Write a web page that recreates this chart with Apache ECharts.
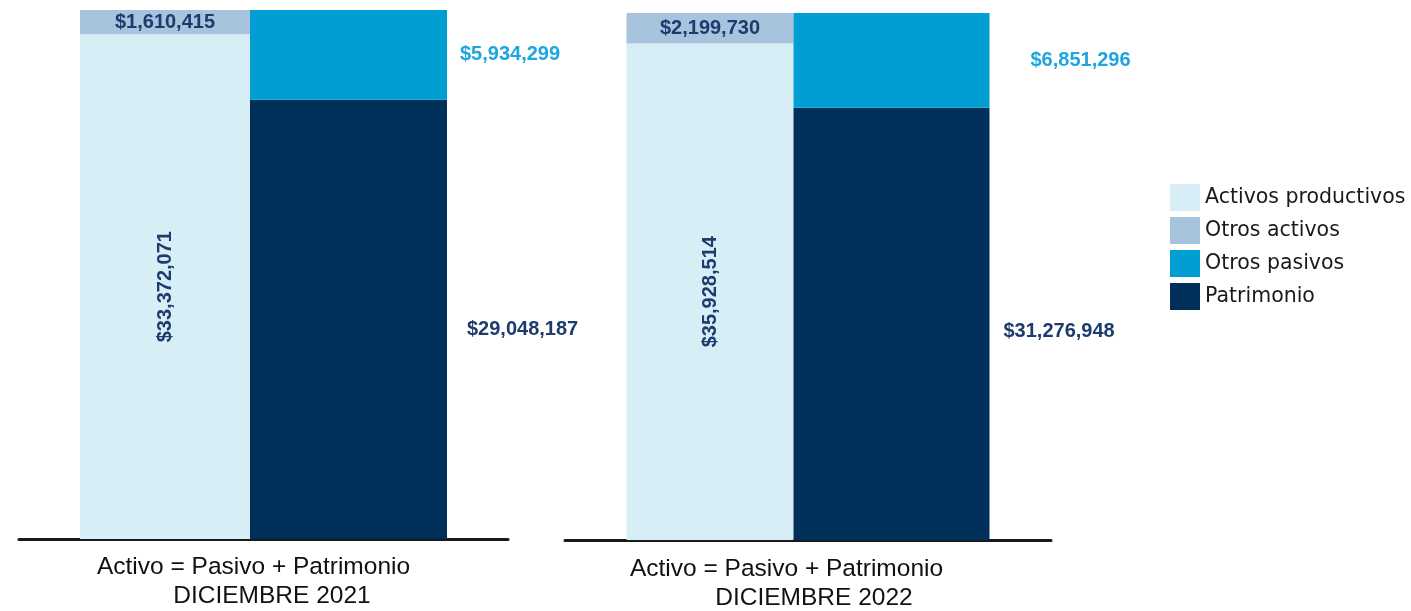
<!DOCTYPE html>
<html>
<head>
<meta charset="utf-8">
<script src="https://cdn.jsdelivr.net/npm/echarts@6/dist/echarts.min.js"></script>
<style>
html,body{margin:0;padding:0;background:#fff;}
#chart{width:1411px;height:611px;}
</style>
</head>
<body>
<div id="chart"></div>
<script>
const categories = ['Activo = Pasivo + Patrimonio'];
const periods = ['DICIEMBRE 2021', 'DICIEMBRE 2022'];
const seriesNames = ['Activos productivos', 'Otros activos', 'Otros pasivos', 'Patrimonio'];
const activosProductivos = [33372071, 35928514];
const otrosActivos = [1610415, 2199730];
const otrosPasivos = [5934299, 6851296];
const patrimonio = [29048187, 31276948];

const colors = {
  'Activos productivos': '#D7EEF6',
  'Otros activos': '#A8C3DD',
  'Otros pasivos': '#009ED3',
  'Patrimonio': '#00305A'
};
const darkLabel = '#1E3B6D';
const cyanLabel = '#1EA5DE';
const sans = '"Liberation Sans", Arial, sans-serif';
const fmt = v => '$' + Number(v).toLocaleString('en-US');

const panels = [
  {grid: {left: 19, width: 489, top: 10, bottom: 72}, w1: 170, w2: 197, pasDist: 13, patDist: 20, patOff: [0, 10],
   padA: [0, 20, 0, 0], padB: [0, 0, 0, 17], margin: 14},
  {grid: {left: 565, width: 486, top: 13, bottom: 70}, w1: 167, w2: 196, pasDist: 41, patDist: 14, patOff: [0, 8],
   padA: [0, 43, 0, 0], padB: [0, 0, 0, 12], margin: 15}
];

const grids = [], xAxes = [], yAxes = [], series = [];
panels.forEach((p, i) => {
  grids.push(p.grid);
  xAxes.push({
    type: 'category', gridIndex: i, data: categories,
    axisLine: {show: true, lineStyle: {color: '#1a1a1a', width: 3}},
    axisTick: {show: false},
    axisLabel: {
      margin: p.margin,
      formatter: v => '{a|' + v + '}\n{b|' + periods[i] + '}',
      rich: {
        a: {fontFamily: sans, fontSize: 24.5, color: '#111', lineHeight: 29, padding: p.padA},
        b: {fontFamily: sans, fontSize: 24.5, color: '#111', lineHeight: 29, padding: p.padB}
      }
    }
  });
  yAxes.push({
    type: 'value', gridIndex: i, min: 0, max: v => v.max, show: false,
    splitLine: {show: false}
  });
  const base = {type: 'bar', xAxisIndex: i, yAxisIndex: i, barGap: '0%', animation: false,
    emphasis: {disabled: true}};
  const lbl = {fontFamily: sans, fontWeight: 'bold', fontSize: 20, formatter: pp => fmt(pp.value)};
  series.push(Object.assign({}, base, {
    name: seriesNames[0], stack: 'act' + i, barWidth: p.w1,
    data: [activosProductivos[i]],
    itemStyle: {color: colors[seriesNames[0]]},
    label: Object.assign({show: true, position: 'inside', rotate: 90, color: darkLabel}, lbl)
  }));
  series.push(Object.assign({}, base, {
    name: seriesNames[1], stack: 'act' + i, barWidth: p.w1,
    data: [otrosActivos[i]],
    itemStyle: {color: colors[seriesNames[1]]},
    label: Object.assign({show: true, position: 'inside', color: darkLabel}, lbl)
  }));
  series.push(Object.assign({}, base, {
    name: seriesNames[3], stack: 'pas' + i, barWidth: p.w2,
    data: [patrimonio[i]],
    itemStyle: {color: colors[seriesNames[3]]},
    label: Object.assign({show: true, position: 'right', distance: p.patDist, offset: p.patOff, color: darkLabel}, lbl)
  }));
  series.push(Object.assign({}, base, {
    name: seriesNames[2], stack: 'pas' + i, barWidth: p.w2,
    data: [otrosPasivos[i]],
    itemStyle: {color: colors[seriesNames[2]]},
    label: Object.assign({show: true, position: 'right', distance: p.pasDist, color: cyanLabel}, lbl)
  }));
});

const chart = echarts.init(document.getElementById('chart'), null, {renderer: 'canvas'});
chart.setOption({
  animation: false,
  backgroundColor: '#ffffff',
  legend: {
    orient: 'vertical', left: 1165, top: 179,
    data: seriesNames,
    itemWidth: 30, itemHeight: 27, itemGap: 6,
    icon: 'rect',
    textStyle: {fontFamily: '"DejaVu Sans", sans-serif', fontSize: 20.5, color: '#1a1a1a'},
    selectedMode: false
  },
  grid: grids,
  xAxis: xAxes,
  yAxis: yAxes,
  series: series
});
</script>
</body>
</html>
